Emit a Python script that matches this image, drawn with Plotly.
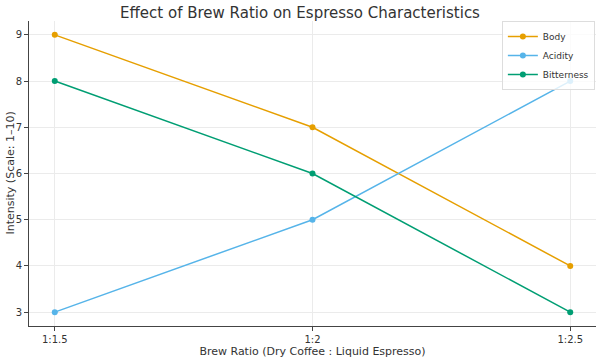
import plotly.graph_objects as go

ratios = ["1:1.5", "1:2", "1:2.5"]
body = [9, 7, 4]
acidity = [3, 5, 8]
bitterness = [8, 6, 3]

series = [("Body", body, "#E69F00"), ("Acidity", acidity, "#56B4E9"), ("Bitterness", bitterness, "#009E73")]

fig = go.Figure()
for name, vals, col in series:
    fig.add_trace(go.Scatter(x=ratios, y=vals, name=name, mode="lines+markers",
                             line=dict(color=col, width=1.5), marker=dict(color=col, size=6)))

font = "DejaVu Sans, sans-serif"
fig.update_layout(
    width=600, height=358,
    margin=dict(l=29, r=4, t=21, b=32),
    paper_bgcolor="white", plot_bgcolor="white",
    font=dict(family=font, color="#333333", size=10),
    title=dict(text="Effect of Brew Ratio on Espresso Characteristics", x=0.5, xanchor="center",
               y=0.965, yanchor="middle", font=dict(size=15, color="#333333")),
    showlegend=True,
    legend=dict(x=0.998, y=1.0, xanchor="right", yanchor="top", bgcolor="rgba(255,255,255,0.8)",
                bordercolor="#dddddd", borderwidth=1, font=dict(size=9), tracegroupgap=0,
                itemwidth=30),
    annotations=[dict(text="Intensity (Scale: 1–10)", xref="paper", yref="paper", x=0, y=0.5,
                      xanchor="center", yanchor="middle", xshift=-19, textangle=-90,
                      showarrow=False, font=dict(size=11, color="#333333"))],
)
fig.update_xaxes(type="category", range=[-0.1, 2.1], showgrid=True, gridcolor="#ebebeb", gridwidth=1,
                 showline=True, linecolor="#444444", linewidth=1, ticks="outside", ticklen=4,
                 tickcolor="#444444", zeroline=False, automargin=False,
                 title=dict(text="Brew Ratio (Dry Coffee : Liquid Espresso)", font=dict(size=11)))
fig.update_yaxes(range=[2.7, 9.3], dtick=1, showgrid=True, gridcolor="#ebebeb", gridwidth=1,
                 showline=True, linecolor="#444444", linewidth=1, ticks="outside", ticklen=4,
                 tickcolor="#444444", zeroline=False, automargin=False)

fig.write_html("out.html", config={"displayModeBar": False},
               post_script="document.body.style.margin='0';document.body.style.overflow='hidden';")
